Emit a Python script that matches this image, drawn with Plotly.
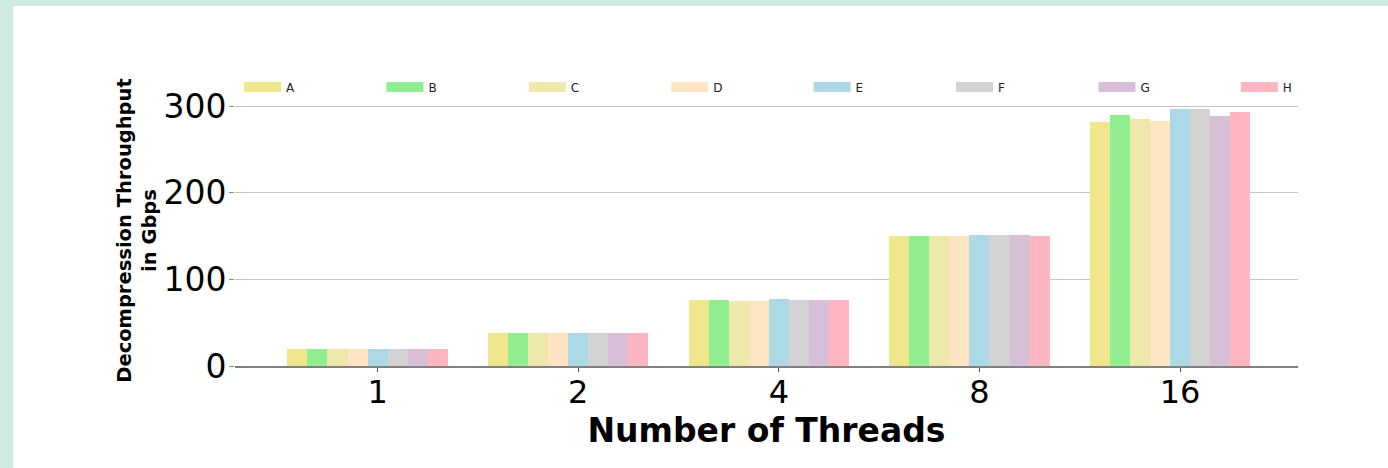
import plotly.graph_objects as go

threads = ["1", "2", "4", "8", "16"]
series_names = ["A", "B", "C", "D", "E", "F", "G", "H"]
A = [19.5, 38.5, 75.9, 150.7, 282.1]
B = [19.5, 38.5, 75.9, 149.6, 290.2]
C = [19.5, 38.5, 75.4, 149.6, 285.2]
D = [19.5, 38.5, 75.4, 150.0, 282.5]
E = [19.5, 38.5, 77.0, 151.5, 297.1]
F = [19.5, 38.5, 76.6, 151.1, 296.3]
G = [19.5, 38.5, 75.9, 151.1, 288.2]
H = [19.5, 38.5, 76.2, 150.7, 292.8]
series_values = [A, B, C, D, E, F, G, H]
colors = ["#f0e68c", "#90ee90", "#eee8aa", "#ffe4c4", "#add8e6", "#d3d3d3", "#d8bfd8", "#ffb6c1"]

W, Hh = 1388, 468
ml, mr, mt, mb = 235, 90, 95, 102
bw = 0.1

fig = go.Figure()
for i, (name, vals, col) in enumerate(zip(series_names, series_values, colors)):
    xs = [k + (i - 4) * bw for k in range(len(threads))]
    fig.add_trace(go.Bar(x=xs, y=vals, width=bw, marker=dict(color=col, line=dict(width=0)),
                         name=name, showlegend=False))
    fig.add_trace(go.Scatter(x=[None], y=[None], mode="lines", name=name,
                             line=dict(color=col, width=10), showlegend=True))

pw = W - ml - mr
ph = Hh - mt - mb
def px_x(p):
    return (p - ml) / pw
def px_y(p):
    return (Hh - mb - p) / ph

fig.add_shape(type="rect", xref="paper", yref="paper",
              x0=px_x(13), x1=px_x(W + 5), y0=px_y(Hh + 5), y1=px_y(6),
              fillcolor="white", line=dict(width=0), layer="below")

fig.update_layout(
    width=W, height=Hh,
    margin=dict(l=ml, r=mr, t=mt, b=mb, autoexpand=False),
    paper_bgcolor="#cdebe0",
    plot_bgcolor="rgba(0,0,0,0)",
    font=dict(family="DejaVu Sans", color="black"),
    bargap=0,
    legend=dict(orientation="h", x=px_x(1379), xanchor="right", y=px_y(87), yanchor="middle",
                entrywidth=90.4, entrywidthmode="pixels", itemwidth=37,
                font=dict(size=12, color="#222222"), bgcolor="rgba(0,0,0,0)",
                traceorder="normal"),
    xaxis=dict(range=[-0.711, 4.588], tickmode="array", tickvals=list(range(len(threads))),
               ticktext=threads, showgrid=False, zeroline=False,
               showline=True, linecolor="#808080", linewidth=1.5,
               ticks="outside", ticklen=4, tickcolor="#555555",
               ticklabelstandoff=-7,
               tickfont=dict(size=32, color="black"),
               title=dict(text="<b>Number of Threads</b>", font=dict(size=33, color="black"), standoff=3)),
    yaxis=dict(range=[0, 313], tickvals=[0, 100, 200, 300], showgrid=True, gridcolor="#c4c4c4",
               gridwidth=1, zeroline=False, showline=False,
               ticks="outside", ticklen=5, tickcolor="#888888",
               ticklabelstandoff=-4,
               tickfont=dict(size=33, color="black"),
               title=dict(text="<b>Decompression Throughput<br>in Gbps</b>", font=dict(size=19.5, color="black"), standoff=1)),
)

fig.write_html("out.html", config={"displayModeBar": False},
               post_script="document.body.style.margin='0';document.body.style.overflow='hidden';")
